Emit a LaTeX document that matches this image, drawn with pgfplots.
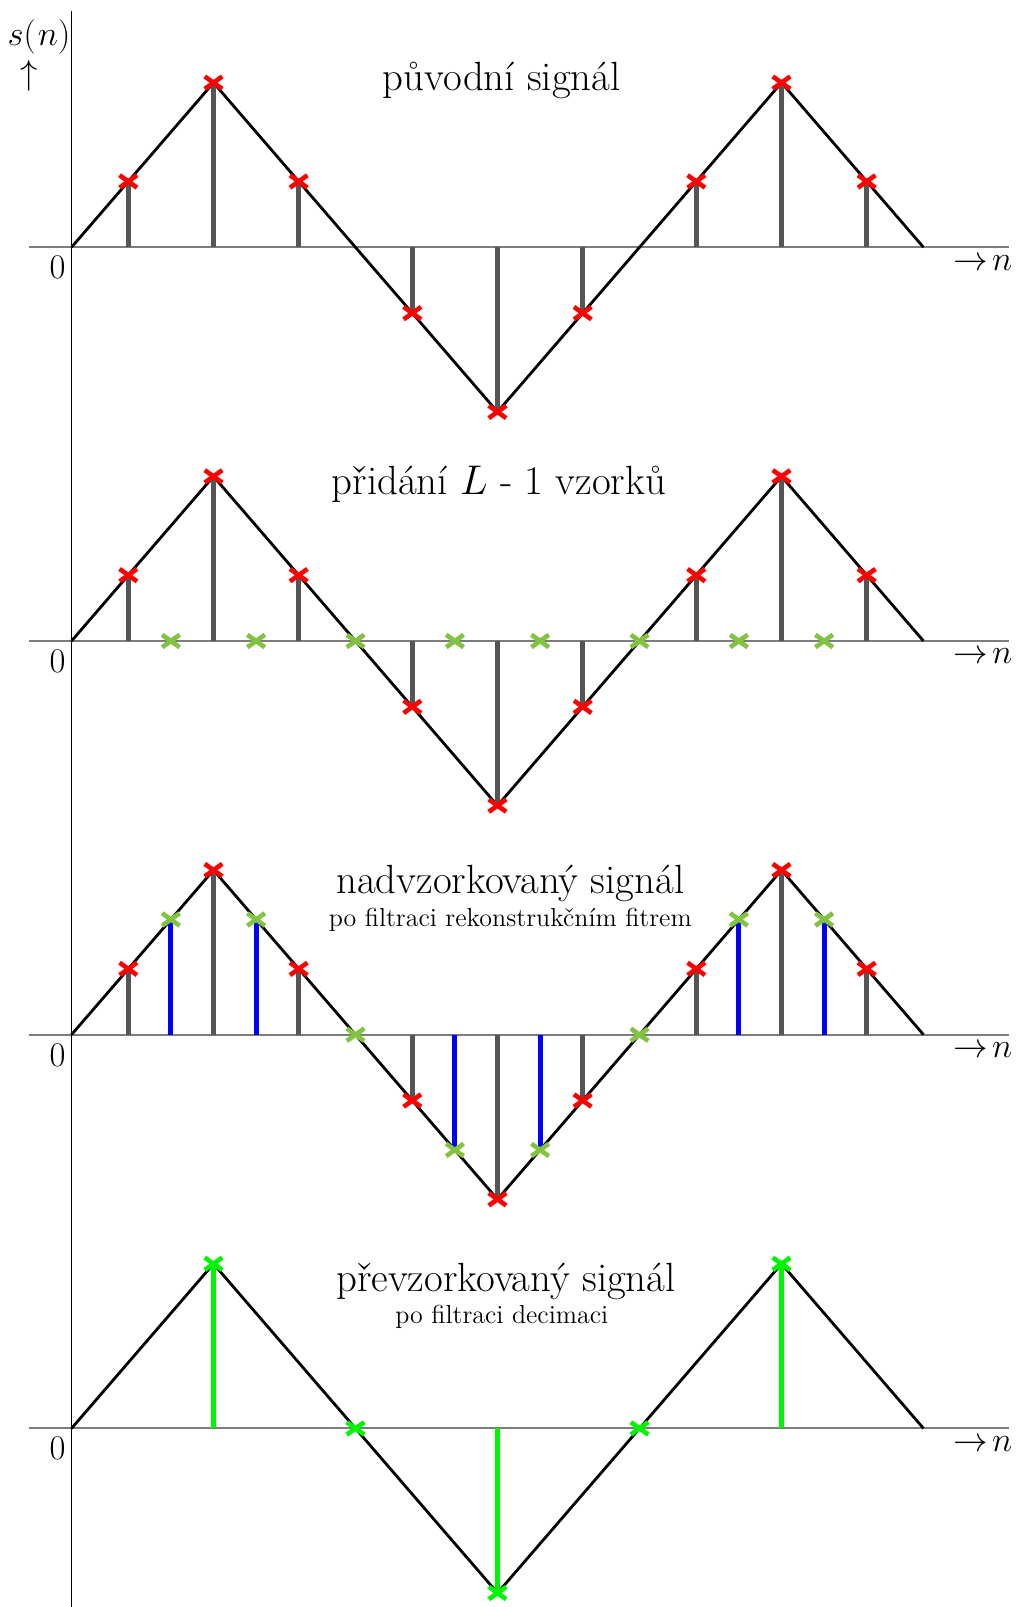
\documentclass[border=0pt]{standalone}
\usepackage{fontspec}
\usepackage{pgfplots}
\pgfplotsset{compat=1.18}

\definecolor{stemgray}{RGB}{85,85,85}
\definecolor{axisgray}{RGB}{125,125,125}
\definecolor{ygreen}{RGB}{130,195,65}
\definecolor{lime}{RGB}{0,245,0}

\pgfplotsset{
  panel/.style={scale only axis, x=71pt, y=82.3pt,
    xmin=-0.3, xmax=6.6, ymin=-1.1, ymax=1.45,
    hide axis, clip=false, anchor=origin},
  signal/.style={black, line width=1.4pt, line join=miter},
  stem/.style={ycomb, line width=2.5pt, no markers},
  cross/.style={only marks, mark=x, mark size=4.4pt,
    mark options={line width=2.3pt, xscale=1.4}},
}
\tikzset{
  ttl/.style={anchor=base, font=\fontsize{20.4}{24}\selectfont},
  subttl/.style={anchor=base, font=\fontsize{13}{16}\selectfont},
  mlabel/.style={inner sep=0pt, font=\fontsize{16}{19}\selectfont},
}

% common pieces of every panel: the n axis with its labels and the signal
\newcommand{\naxis}{%
  \draw[axisgray, line width=1pt] (axis cs:-0.297,0) -- (axis cs:6.604,0);
  \node[mlabel] at (axis cs:-0.099,-0.123) {$0$};
  \node[mlabel, anchor=base west] at (axis cs:6.21,-0.138) {${\rightarrow}\mkern2mu n$};
  \addplot[signal] coordinates {(0,0) (1,1) (3,-1) (5,1) (6,0)};
}

\begin{document}
\begin{tikzpicture}
\useasboundingbox (-35.75pt,-679.85pt) rectangle (473.25pt,123.65pt);

% original signal
\begin{axis}[panel, at={(0pt,0pt)}]
  \naxis
  \addplot[stem, stemgray] coordinates {(0.4,0.4) (1,1) (1.6,0.4) (2.4,-0.4) (3,-1) (3.6,-0.4) (4.4,0.4) (5,1) (5.6,0.4)};
  \addplot[cross, red] coordinates {(0.4,0.4) (1,1) (1.6,0.4) (2.4,-0.4) (3,-1) (3.6,-0.4) (4.4,0.4) (5,1) (5.6,0.4)};
  \node[ttl] at (axis cs:3.03,0.95) {původní signál};
  \node[mlabel] at (axis cs:-0.229,1.279) {$s(\mkern1mu n)$};
  \node[mlabel] at (axis cs:-0.297,1.04) {$\uparrow$};
  \coordinate (vtop) at (axis cs:0,1.436);
\end{axis}

% L-1 zero samples inserted
\begin{axis}[panel, at={(0pt,-196.85pt)}]
  \naxis
  \addplot[stem, stemgray] coordinates {(0.4,0.4) (1,1) (1.6,0.4) (2.4,-0.4) (3,-1) (3.6,-0.4) (4.4,0.4) (5,1) (5.6,0.4)};
  \addplot[cross, red] coordinates {(0.4,0.4) (1,1) (1.6,0.4) (2.4,-0.4) (3,-1) (3.6,-0.4) (4.4,0.4) (5,1) (5.6,0.4)};
  \addplot[cross, ygreen] coordinates {(0.7,0) (1.3,0) (2,0) (2.7,0) (3.3,0) (4,0) (4.7,0) (5.3,0)};
  \node[ttl] at (axis cs:3.01,0.89) {přidání $L$ - 1 vzorků};
\end{axis}

% upsampled signal after the reconstruction filter
\begin{axis}[panel, at={(0pt,-393.7pt)}]
  \naxis
  \addplot[stem, stemgray] coordinates {(0.4,0.4) (1,1) (1.6,0.4) (2.4,-0.4) (3,-1) (3.6,-0.4) (4.4,0.4) (5,1) (5.6,0.4)};
  \addplot[stem, blue] coordinates {(0.7,0.7) (1.3,0.7) (2.7,-0.7) (3.3,-0.7) (4.7,0.7) (5.3,0.7)};
  \addplot[cross, red] coordinates {(0.4,0.4) (1,1) (1.6,0.4) (2.4,-0.4) (3,-1) (3.6,-0.4) (4.4,0.4) (5,1) (5.6,0.4)};
  \addplot[cross, ygreen] coordinates {(0.7,0.7) (1.3,0.7) (2,0) (2.7,-0.7) (3.3,-0.7) (4,0) (4.7,0.7) (5.3,0.7)};
  \node[ttl] at (axis cs:3.09,0.86) {nadvzorkovaný signál};
  \node[subttl] at (axis cs:3.09,0.655) {po filtraci rekonstrukčním fitrem};
\end{axis}

% resampled signal after decimation
\begin{axis}[panel, at={(0pt,-590.55pt)}]
  \naxis
  \addplot[stem, lime] coordinates {(1,1) (3,-1) (5,1)};
  \addplot[cross, lime] coordinates {(1,1) (2,0) (3,-1) (4,0) (5,1)};
  \node[ttl] at (axis cs:3.06,0.83) {převzorkovaný signál};
  \node[subttl] at (axis cs:3.03,0.64) {po filtraci decimaci};
  \coordinate (vbot) at (axis cs:0,-1.09);
\end{axis}

\draw[black, line width=0.9pt] (vtop) -- (vbot);
\end{tikzpicture}
\end{document}
